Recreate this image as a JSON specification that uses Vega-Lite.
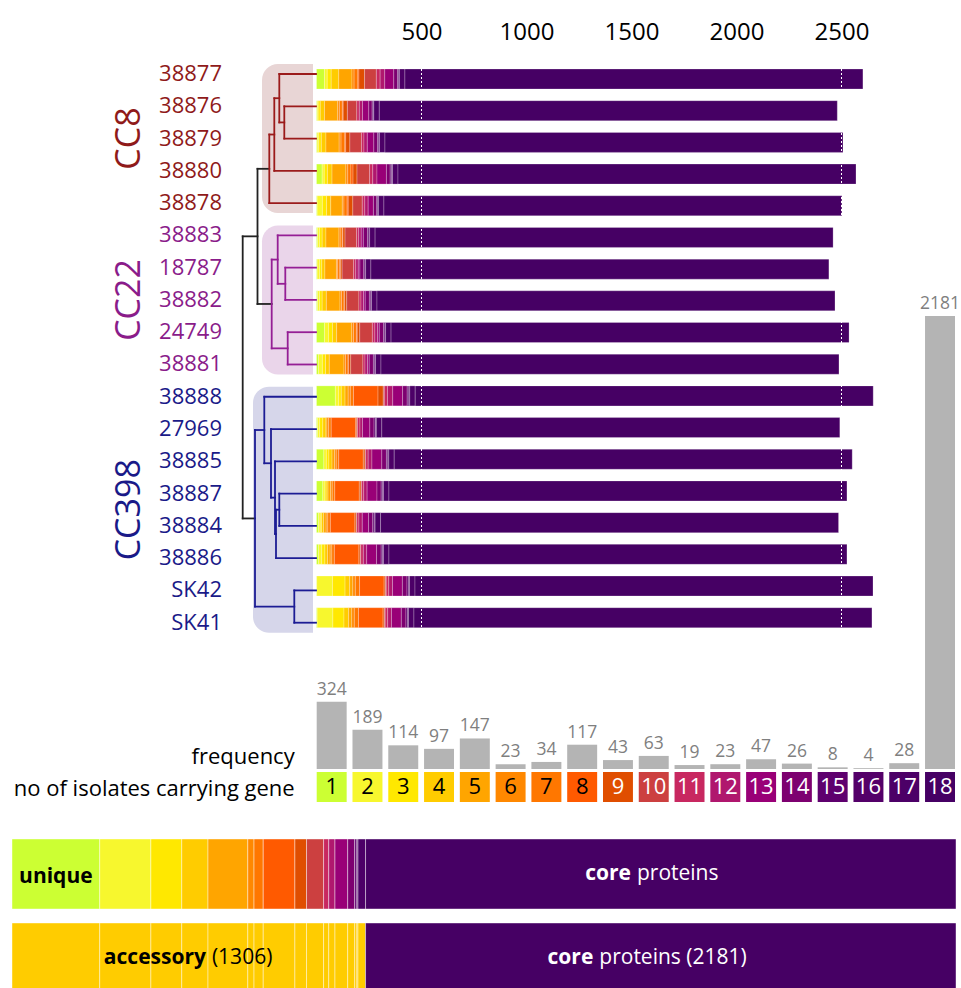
{
  "$schema": "https://vega.github.io/schema/vega-lite/v6.json",
  "width": 961,
  "height": 988,
  "autosize": {"type": "none"},
  "padding": 0,
  "background": "white",
  "config": {"view": {"stroke": null}, "font": "Open Sans"},
  "datasets": {
    "iso": [
      {"iso": "38877", "row": 0, "clade": "CC8", "v": [38,13,19,36,63,10,18,5,27,56,18,22,43,18,6,3,26,2181], "cat": [1,2,3,4,5,6,7,8,9,10,11,12,13,14,15,16,17,18]},
      {"iso": "38876", "row": 1, "clade": "CC8", "v": [3,5,10,20,63,8,14,4,20,45,12,15,30,16,5,3,26,2181], "cat": [1,2,3,4,5,6,7,8,9,10,11,12,13,14,15,16,17,18]},
      {"iso": "38879", "row": 2, "clade": "CC8", "v": [3,8,12,22,63,9,18,4,20,55,12,16,31,18,6,3,26,2181], "cat": [1,2,3,4,5,6,7,8,9,10,11,12,13,14,15,16,17,18]},
      {"iso": "38880", "row": 3, "clade": "CC8", "v": [27,10,15,22,66,9,15,10,19,60,15,20,45,18,7,4,26,2181], "cat": [1,2,3,4,5,6,7,8,9,10,11,12,13,14,15,16,17,18]},
      {"iso": "38878", "row": 4, "clade": "CC8", "v": [3,25,20,20,55,8,15,5,22,45,12,16,25,16,5,3,26,2181], "cat": [1,2,3,4,5,6,7,8,9,10,11,12,13,14,15,16,17,18]},
      {"iso": "38883", "row": 5, "clade": "CC22", "v": [5,10,12,18,62,6,10,3,10,55,10,12,10,20,7,3,26,2181], "cat": [1,2,3,4,5,6,7,8,9,10,11,12,13,14,15,16,17,18]},
      {"iso": "18787", "row": 6, "clade": "CC22", "v": [3,12,10,15,55,6,10,3,8,55,10,12,8,18,6,3,25,2181], "cat": [1,2,3,4,5,6,7,8,9,10,11,12,13,14,15,16,17,18]},
      {"iso": "38882", "row": 7, "clade": "CC22", "v": [5,10,12,20,65,7,12,3,10,58,10,12,8,20,7,3,26,2181], "cat": [1,2,3,4,5,6,7,8,9,10,11,12,13,14,15,16,17,18]},
      {"iso": "24749", "row": 8, "clade": "CC22", "v": [38,20,18,20,72,8,14,4,12,60,12,13,8,20,7,3,26,2181], "cat": [1,2,3,4,5,6,7,8,9,10,11,12,13,14,15,16,17,18]},
      {"iso": "38881", "row": 9, "clade": "CC22", "v": [10,18,15,18,70,7,12,3,10,58,10,12,8,20,7,3,26,2181], "cat": [1,2,3,4,5,6,7,8,9,10,11,12,13,14,15,16,17,18]},
      {"iso": "38888", "row": 10, "clade": "CC398", "v": [90,16,12,18,15,10,15,117,25,5,15,25,47,22,8,4,26,2181], "cat": [1,2,3,4,5,6,7,8,9,10,11,12,13,14,15,16,17,18]},
      {"iso": "27969", "row": 11, "clade": "CC398", "v": [5,10,15,15,5,8,12,117,5,3,12,12,35,20,7,4,26,2181], "cat": [1,2,3,4,5,6,7,8,9,10,11,12,13,14,15,16,17,18]},
      {"iso": "38885", "row": 12, "clade": "CC398", "v": [35,12,12,15,12,8,12,117,8,3,12,18,47,22,7,4,26,2181], "cat": [1,2,3,4,5,6,7,8,9,10,11,12,13,14,15,16,17,18]},
      {"iso": "38887", "row": 13, "clade": "CC398", "v": [30,10,6,9,12,8,12,117,8,3,10,16,47,20,7,4,26,2181], "cat": [1,2,3,4,5,6,7,8,9,10,11,12,13,14,15,16,17,18]},
      {"iso": "38884", "row": 14, "clade": "CC398", "v": [10,8,6,10,12,8,12,117,6,3,10,16,30,20,7,4,26,2181], "cat": [1,2,3,4,5,6,7,8,9,10,11,12,13,14,15,16,17,18]},
      {"iso": "38886", "row": 15, "clade": "CC398", "v": [10,15,15,13,12,8,12,117,6,3,12,16,47,22,7,4,26,2181], "cat": [1,2,3,4,5,6,7,8,9,10,11,12,13,14,15,16,17,18]},
      {"iso": "SK42", "row": 16, "clade": "CC398", "v": [1,75,60,22,15,12,20,117,6,4,12,18,47,22,8,4,26,2181], "cat": [1,2,3,4,5,6,7,8,9,10,11,12,13,14,15,16,17,18]},
      {"iso": "SK41", "row": 17, "clade": "CC398", "v": [3,75,53,22,15,12,20,117,6,4,12,18,47,22,8,4,26,2181], "cat": [1,2,3,4,5,6,7,8,9,10,11,12,13,14,15,16,17,18]}
    ],
    "freq": [
      {"cat": 1, "freq": 324}, {"cat": 2, "freq": 189}, {"cat": 3, "freq": 114}, {"cat": 4, "freq": 97},
      {"cat": 5, "freq": 147}, {"cat": 6, "freq": 23}, {"cat": 7, "freq": 34}, {"cat": 8, "freq": 117},
      {"cat": 9, "freq": 43}, {"cat": 10, "freq": 63}, {"cat": 11, "freq": 19}, {"cat": 12, "freq": 23},
      {"cat": 13, "freq": 47}, {"cat": 14, "freq": 26}, {"cat": 15, "freq": 8}, {"cat": 16, "freq": 4},
      {"cat": 17, "freq": 28}, {"cat": 18, "freq": 2181}
    ],
    "tree": [
      {"h1": 36.7, "h2": 0, "r1": 0, "r2": 0, "g": "CC8"},
      {"h1": 31.7, "h2": 0, "r1": 1, "r2": 1, "g": "CC8"},
      {"h1": 31.7, "h2": 0, "r1": 2, "r2": 2, "g": "CC8"},
      {"h1": 41.7, "h2": 0, "r1": 3, "r2": 3, "g": "CC8"},
      {"h1": 46.7, "h2": 0, "r1": 4, "r2": 4, "g": "CC8"},
      {"h1": 38.3, "h2": 0, "r1": 5, "r2": 5, "g": "CC22"},
      {"h1": 30.7, "h2": 0, "r1": 6, "r2": 6, "g": "CC22"},
      {"h1": 30.7, "h2": 0, "r1": 7, "r2": 7, "g": "CC22"},
      {"h1": 28.3, "h2": 0, "r1": 8, "r2": 8, "g": "CC22"},
      {"h1": 28.3, "h2": 0, "r1": 9, "r2": 9, "g": "CC22"},
      {"h1": 51.7, "h2": 0, "r1": 10, "r2": 10, "g": "CC398"},
      {"h1": 45, "h2": 0, "r1": 11, "r2": 11, "g": "CC398"},
      {"h1": 41, "h2": 0, "r1": 12, "r2": 12, "g": "CC398"},
      {"h1": 36.7, "h2": 0, "r1": 13, "r2": 13, "g": "CC398"},
      {"h1": 36.7, "h2": 0, "r1": 14, "r2": 14, "g": "CC398"},
      {"h1": 40, "h2": 0, "r1": 15, "r2": 15, "g": "CC398"},
      {"h1": 21.7, "h2": 0, "r1": 16, "r2": 16, "g": "CC398"},
      {"h1": 21.7, "h2": 0, "r1": 17, "r2": 17, "g": "CC398"},
      {"h1": 36.7, "h2": 31.7, "r1": 1.5, "r2": 1.5, "g": "CC8"},
      {"h1": 41.7, "h2": 36.7, "r1": 0.75, "r2": 0.75, "g": "CC8"},
      {"h1": 46.7, "h2": 41.7, "r1": 1.875, "r2": 1.875, "g": "CC8"},
      {"h1": 58.5, "h2": 46.7, "r1": 2.9375, "r2": 2.9375, "g": "root"},
      {"h1": 38.3, "h2": 30.7, "r1": 6.5, "r2": 6.5, "g": "CC22"},
      {"h1": 44.3, "h2": 38.3, "r1": 5.75, "r2": 5.75, "g": "CC22"},
      {"h1": 44.3, "h2": 28.3, "r1": 8.5, "r2": 8.5, "g": "CC22"},
      {"h1": 58.5, "h2": 44.3, "r1": 7.125, "r2": 7.125, "g": "root"},
      {"h1": 73.3, "h2": 58.5, "r1": 5.03, "r2": 5.03, "g": "root"},
      {"h1": 40, "h2": 36.7, "r1": 13.5, "r2": 13.5, "g": "CC398"},
      {"h1": 41, "h2": 40, "r1": 14.25, "r2": 14.25, "g": "CC398"},
      {"h1": 45, "h2": 41, "r1": 13.125, "r2": 13.125, "g": "CC398"},
      {"h1": 51.7, "h2": 45, "r1": 12.06, "r2": 12.06, "g": "CC398"},
      {"h1": 61, "h2": 51.7, "r1": 11.03, "r2": 11.03, "g": "CC398"},
      {"h1": 61, "h2": 21.7, "r1": 16.5, "r2": 16.5, "g": "CC398"},
      {"h1": 73.3, "h2": 61, "r1": 13.77, "r2": 13.77, "g": "root"},
      {"h1": 36.7, "h2": 36.7, "r1": 0, "r2": 1.5, "g": "CC8"},
      {"h1": 31.7, "h2": 31.7, "r1": 1, "r2": 2, "g": "CC8"},
      {"h1": 41.7, "h2": 41.7, "r1": 0.75, "r2": 3, "g": "CC8"},
      {"h1": 46.7, "h2": 46.7, "r1": 1.875, "r2": 4, "g": "CC8"},
      {"h1": 30.7, "h2": 30.7, "r1": 6, "r2": 7, "g": "CC22"},
      {"h1": 38.3, "h2": 38.3, "r1": 5, "r2": 6.5, "g": "CC22"},
      {"h1": 28.3, "h2": 28.3, "r1": 8, "r2": 9, "g": "CC22"},
      {"h1": 44.3, "h2": 44.3, "r1": 5.75, "r2": 8.5, "g": "CC22"},
      {"h1": 58.5, "h2": 58.5, "r1": 2.9375, "r2": 7.125, "g": "root"},
      {"h1": 36.7, "h2": 36.7, "r1": 13, "r2": 14, "g": "CC398"},
      {"h1": 40, "h2": 40, "r1": 13.5, "r2": 15, "g": "CC398"},
      {"h1": 41, "h2": 41, "r1": 12, "r2": 14.25, "g": "CC398"},
      {"h1": 45, "h2": 45, "r1": 11, "r2": 13.125, "g": "CC398"},
      {"h1": 51.7, "h2": 51.7, "r1": 10, "r2": 12.06, "g": "CC398"},
      {"h1": 21.7, "h2": 21.7, "r1": 16, "r2": 17, "g": "CC398"},
      {"h1": 61, "h2": 61, "r1": 11.03, "r2": 16.5, "g": "CC398"},
      {"h1": 73.3, "h2": 73.3, "r1": 5.03, "r2": 13.77, "g": "root"}
    ],
    "clades": [
      {"clade": "CC8", "r1": 0, "r2": 4, "hx": 54, "mid": 2},
      {"clade": "CC22", "r1": 5, "r2": 9, "hx": 54, "mid": 7},
      {"clade": "CC398", "r1": 10, "r2": 17, "hx": 63, "mid": 13.5}
    ]
  },
  "layer": [
    {
      "layer": [
        {
          "data": {"name": "iso"},
          "transform": [
            {"flatten": ["v", "cat"]},
            {"stack": "v", "groupby": ["iso"], "sort": [{"field": "cat", "order": "ascending"}], "as": ["s0", "s1"]}
          ],
          "mark": {"type": "bar", "orient": "horizontal", "height": 20, "stroke": "white", "strokeWidth": 0.4, "strokeOpacity": 0.6},
          "encoding": {
            "x": {"field": "s0", "type": "quantitative",
                  "scale": {"domain": [0, 2700], "range": [316.5, 883.5], "nice": false, "zero": false},
                  "axis": {"orient": "top", "values": [500, 1000, 1500, 2000, 2500], "format": "d", "domain": false, "ticks": false, "grid": false,
                           "labelFontSize": 24, "labelColor": "black", "labelFont": "Open Sans", "offset": -46, "labelPadding": 2, "title": null}},
            "x2": {"field": "s1"},
            "y": {"field": "row", "type": "quantitative", "scale": {"domain": [0, 17], "range": [74, 622.7], "nice": false, "zero": false}, "axis": null},
            "color": {"field": "cat", "type": "ordinal",
                      "scale": {"domain": [1,2,3,4,5,6,7,8,9,10,11,12,13,14,15,16,17,18],
                                "range": ["#ccff33","#f7f72e","#ffe800","#ffcc00","#ffa500","#ff8800","#ff7700","#ff5a00","#e04e00","#cc4040","#c82860","#b0176e","#990077","#7d0070","#5e006e","#540069","#4c0067","#460064"]},
                      "legend": null}
          }
        },
        {
          "data": {"values": [{"g": 500}, {"g": 2500}]},
          "mark": {"type": "rule", "color": "white", "strokeDash": [2, 2], "strokeWidth": 1, "yOffset": -10, "y2Offset": 10},
          "encoding": {
            "x": {"field": "g", "type": "quantitative"},
            "y": {"datum": 0, "type": "quantitative"},
            "y2": {"datum": 17}
          }
        }
      ]
    },
    {
      "layer": [
        {
          "data": {"name": "clades"},
          "mark": {"type": "rect", "cornerRadiusTopLeft": 16, "cornerRadiusBottomLeft": 16, "yOffset": -10, "y2Offset": 10},
          "encoding": {
            "x": {"field": "hx", "type": "quantitative", "scale": {"domain": [0, 100], "range": [316, 216], "nice": false, "zero": false}, "axis": null},
            "x2": {"datum": 3},
            "y": {"field": "r1", "type": "quantitative", "scale": {"domain": [0, 17], "range": [74, 622.7], "nice": false, "zero": false}, "axis": null},
            "y2": {"field": "r2"},
            "fill": {"field": "clade", "type": "nominal", "scale": {"domain": ["CC8", "CC22", "CC398"], "range": ["#e8d5d5", "#ead5ea", "#d6d6ea"]}, "legend": null}
          }
        },
        {
          "data": {"name": "tree"},
          "mark": {"type": "rule", "strokeWidth": 1.8, "strokeCap": "square"},
          "encoding": {
            "x": {"field": "h1", "type": "quantitative"},
            "x2": {"field": "h2"},
            "y": {"field": "r1", "type": "quantitative"},
            "y2": {"field": "r2"},
            "stroke": {"field": "g", "type": "nominal", "scale": {"domain": ["CC8", "CC22", "CC398", "root"], "range": ["#9b1b1b", "#951f95", "#1c1c94", "#222222"]}, "legend": null}
          }
        },
        {
          "data": {"name": "iso"},
          "mark": {"type": "text", "align": "right", "baseline": "middle", "fontSize": 22},
          "encoding": {
            "x": {"datum": 94},
            "y": {"field": "row", "type": "quantitative"},
            "text": {"field": "iso"},
            "color": {"field": "clade", "type": "nominal", "scale": {"domain": ["CC8", "CC22", "CC398"], "range": ["#8f1a1a", "#8a1c8a", "#1a1a88"]}, "legend": null}
          }
        },
        {
          "data": {"name": "clades"},
          "mark": {"type": "text", "align": "center", "baseline": "middle", "fontSize": 34, "angle": 270},
          "encoding": {
            "x": {"datum": 186},
            "y": {"field": "mid", "type": "quantitative"},
            "text": {"field": "clade"},
            "color": {"field": "clade", "type": "nominal"}
          }
        }
      ]
    },
    {
      "layer": [
        {
          "data": {"name": "freq"},
          "mark": {"type": "bar", "color": "#b4b4b4"},
          "encoding": {
            "x": {"field": "cat", "type": "ordinal", "scale": {"domain": [1,2,3,4,5,6,7,8,9,10,11,12,13,14,15,16,17,18], "range": [316.7, 955], "paddingInner": 0.1625, "paddingOuter": 0}, "axis": null},
            "y": {"field": "freq", "type": "quantitative", "scale": {"domain": [0, 2200], "range": [769, 312.1], "nice": false, "zero": true}, "axis": null}
          }
        },
        {
          "data": {"name": "freq"},
          "mark": {"type": "text", "baseline": "bottom", "dy": -3, "fontSize": 17.5, "color": "#7f7f7f"},
          "encoding": {
            "x": {"field": "cat", "type": "ordinal"},
            "y": {"field": "freq", "type": "quantitative"},
            "text": {"field": "freq"}
          }
        },
        {
          "data": {"name": "freq"},
          "mark": {"type": "rect", "yOffset": 3, "y2Offset": 33},
          "encoding": {
            "x": {"field": "cat", "type": "ordinal"},
            "y": {"datum": 0, "type": "quantitative"},
            "y2": {"datum": 0},
            "color": {"field": "cat", "type": "ordinal",
                      "scale": {"domain": [1,2,3,4,5,6,7,8,9,10,11,12,13,14,15,16,17,18],
                                "range": ["#ccff33","#f7f72e","#ffe800","#ffcc00","#ffa500","#ff8800","#ff7700","#ff5a00","#e04e00","#cc4040","#c82860","#b0176e","#990077","#7d0070","#5e006e","#540069","#4c0067","#460064"]},
                      "legend": null}
          }
        },
        {
          "data": {"name": "freq"},
          "mark": {"type": "text", "baseline": "middle", "dy": 18, "fontSize": 22},
          "encoding": {
            "x": {"field": "cat", "type": "ordinal"},
            "y": {"datum": 0, "type": "quantitative"},
            "text": {"field": "cat"},
            "color": {"condition": {"test": "datum.cat > 8", "value": "white"}, "value": "black"}
          }
        },
        {
          "data": {"values": [{"label": "frequency"}]},
          "mark": {"type": "text", "align": "right", "baseline": "middle", "dx": -37, "dy": -12, "fontSize": 22, "color": "black"},
          "encoding": {"x": {"datum": 1, "type": "ordinal"}, "y": {"datum": 0, "type": "quantitative"}, "text": {"field": "label"}}
        },
        {
          "data": {"values": [{"label": "no of isolates carrying gene"}]},
          "mark": {"type": "text", "align": "right", "baseline": "middle", "dx": -37, "dy": 20, "fontSize": 22, "color": "black"},
          "encoding": {"x": {"datum": 1, "type": "ordinal"}, "y": {"datum": 0, "type": "quantitative"}, "text": {"field": "label"}}
        }
      ]
    },
    {
      "layer": [
        {
          "data": {"name": "freq"},
          "transform": [
            {"stack": "freq", "groupby": [], "sort": [{"field": "cat", "order": "ascending"}], "as": ["b0", "b1"]}
          ],
          "mark": {"type": "bar", "stroke": "white", "strokeWidth": 0.6, "strokeOpacity": 0.7},
          "encoding": {
            "x": {"field": "b0", "type": "quantitative", "scale": {"domain": [0, 3487], "range": [12, 956], "nice": false, "zero": false}, "axis": null},
            "x2": {"field": "b1"},
            "y": {"datum": "a", "type": "nominal", "scale": {"domain": ["a", "b"], "range": [839, 993], "paddingInner": 0.1667, "paddingOuter": 0}, "axis": null},
            "color": {"field": "cat", "type": "ordinal",
                      "scale": {"domain": [1,2,3,4,5,6,7,8,9,10,11,12,13,14,15,16,17,18],
                                "range": ["#ccff33","#f7f72e","#ffe800","#ffcc00","#ffa500","#ff8800","#ff7700","#ff5a00","#e04e00","#cc4040","#c82860","#b0176e","#990077","#7d0070","#5e006e","#540069","#4c0067","#460064"]},
                      "legend": null}
          }
        },
        {
          "data": {"name": "freq"},
          "transform": [
            {"stack": "freq", "groupby": [], "sort": [{"field": "cat", "order": "ascending"}], "as": ["b0", "b1"]}
          ],
          "mark": {"type": "bar", "stroke": "white", "strokeWidth": 0.6, "strokeOpacity": 0.7},
          "encoding": {
            "x": {"field": "b0", "type": "quantitative"},
            "x2": {"field": "b1"},
            "y": {"datum": "b", "type": "nominal"},
            "color": {"condition": {"test": "datum.cat == 18", "value": "#460064"}, "value": "#ffcc00"}
          }
        },
        {
          "data": {"values": [{"t": "x"}]},
          "layer": [
            {"mark": {"type": "text", "text": "unique", "fontWeight": "bold", "fontSize": 21, "color": "black", "baseline": "middle", "dy": 3},
             "encoding": {"x": {"datum": 162, "type": "quantitative"}, "y": {"datum": "a", "type": "nominal"}}},
            {"mark": {"type": "text", "text": "core", "fontWeight": "bold", "fontSize": 21, "color": "white", "align": "right", "baseline": "middle", "dx": -1},
             "encoding": {"x": {"datum": 2290, "type": "quantitative"}, "y": {"datum": "a", "type": "nominal"}}},
            {"mark": {"type": "text", "text": "proteins", "fontSize": 21, "color": "white", "align": "left", "baseline": "middle", "dx": 5},
             "encoding": {"x": {"datum": 2290, "type": "quantitative"}, "y": {"datum": "a", "type": "nominal"}}},
            {"mark": {"type": "text", "text": "accessory", "fontWeight": "bold", "fontSize": 21, "color": "black", "align": "right", "baseline": "middle", "dx": -1},
             "encoding": {"x": {"datum": 720, "type": "quantitative"}, "y": {"datum": "b", "type": "nominal"}}},
            {"mark": {"type": "text", "text": "(1306)", "fontSize": 21, "color": "black", "align": "left", "baseline": "middle", "dx": 5},
             "encoding": {"x": {"datum": 720, "type": "quantitative"}, "y": {"datum": "b", "type": "nominal"}}},
            {"mark": {"type": "text", "text": "core", "fontWeight": "bold", "fontSize": 21, "color": "white", "align": "right", "baseline": "middle", "dx": -1},
             "encoding": {"x": {"datum": 2151, "type": "quantitative"}, "y": {"datum": "b", "type": "nominal"}}},
            {"mark": {"type": "text", "text": "proteins (2181)", "fontSize": 21, "color": "white", "align": "left", "baseline": "middle", "dx": 5},
             "encoding": {"x": {"datum": 2151, "type": "quantitative"}, "y": {"datum": "b", "type": "nominal"}}}
          ]
        }
      ]
    }
  ],
  "resolve": {
    "scale": {"x": "independent", "y": "independent", "color": "independent", "fill": "independent", "stroke": "independent"},
    "axis": {"x": "independent", "y": "independent"}
  }
}
